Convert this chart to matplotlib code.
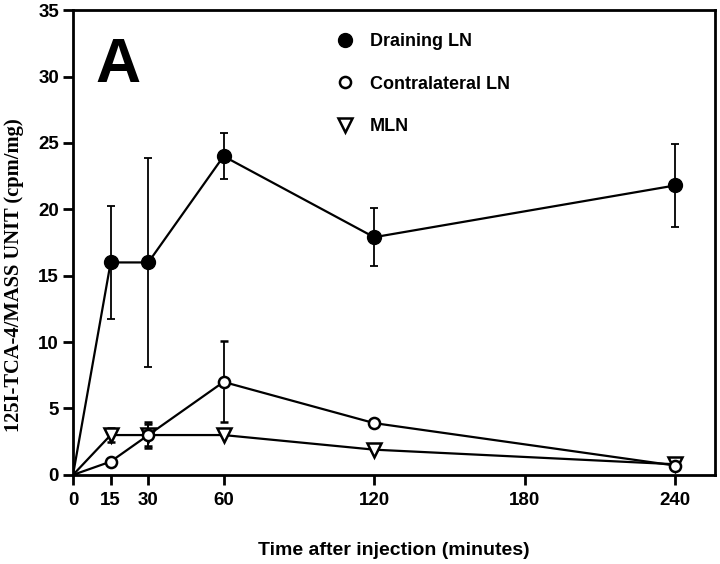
import matplotlib
matplotlib.use('Agg')
import matplotlib.pyplot as plt
from matplotlib.lines import Line2D

plt.rcParams['font.family'] = ['Liberation Sans', 'DejaVu Sans']
plt.rcParams['font.weight'] = 'bold'

# Data
time = [0, 15, 30, 60, 120, 240]
draining = [0, 16.0, 16.0, 24.0, 17.9, 21.8]
draining_err = [0, 4.25, 7.85, 1.75, 2.2, 3.1]
contra = [0, 1.0, 3.0, 7.0, 3.9, 0.7]
contra_err = [0, 0, 1.0, 3.05, 0, 0]
mln = [0, 3.0, 3.0, 3.0, 1.9, 0.8]
mln_err = [0, 0.5, 0.85, 0, 0, 0]
xticks = [0, 15, 30, 60, 120, 180, 240]
yticks = [0, 5, 10, 15, 20, 25, 30, 35]

fig = plt.figure(figsize=(7.2, 5.64), dpi=100)
ax = fig.add_axes([0.1014, 0.158, 0.8916, 0.824])

mk = list(range(1, len(time)))

ax.errorbar(time, draining, yerr=draining_err, color='black', lw=1.6,
            marker='o', markersize=10, markevery=mk, capsize=3, elinewidth=1.3,
            capthick=1.3, zorder=3)
ax.errorbar(time, contra, yerr=contra_err, color='black', lw=1.6,
            marker='o', markersize=8, markerfacecolor='white', markeredgewidth=1.8,
            markevery=mk, capsize=3, elinewidth=1.3, capthick=1.3, zorder=4)
ax.errorbar(time, mln, yerr=mln_err, color='black', lw=1.6,
            marker='v', markersize=10, markerfacecolor='white', markeredgewidth=1.8,
            markevery=mk, capsize=3, elinewidth=1.3, capthick=1.3, zorder=3)

ax.set_xlim(0, 255.8)
ax.set_ylim(0, 35)
ax.set_xticks(xticks)
ax.set_yticks(yticks)
ax.tick_params(direction='out', length=7, width=2, labelsize=13.5, pad=3)
ax.tick_params(axis='x', pad=5)
for lab in ax.get_xticklabels() + ax.get_yticklabels():
    lab.set_fontweight('bold')
for s in ax.spines.values():
    s.set_linewidth(2)

ax.set_xlabel('Time after injection (minutes)', fontsize=14, fontweight='bold', labelpad=24)
ax.set_ylabel('125I-TCA-4/MASS UNIT (cpm/mg)', fontsize=14.8, fontweight='bold',
              family=['Liberation Serif', 'DejaVu Serif'], va='center')
ax.yaxis.set_label_coords(-0.092, 0.43)

ax.text(0.035, 0.945, 'A', transform=ax.transAxes, fontsize=45, fontweight='bold',
        va='top', ha='left')

handles = [
    Line2D([], [], color='black', ls='none', marker='o', markersize=10),
    Line2D([], [], color='black', ls='none', marker='o', markersize=8,
           markerfacecolor='white', markeredgewidth=1.8),
    Line2D([], [], color='black', ls='none', marker='v', markersize=10,
           markerfacecolor='white', markeredgewidth=1.8),
]
labels = ['Draining LN', 'Contralateral LN', 'MLN']
leg = ax.legend(handles, labels, loc='upper left', bbox_to_anchor=(0.384, 0.986),
                frameon=False, fontsize=13, handlelength=1.0, handletextpad=0.9,
                labelspacing=1.42, numpoints=1)
for t in leg.get_texts():
    t.set_fontweight('bold')

fig.savefig('out.png', dpi=100)
